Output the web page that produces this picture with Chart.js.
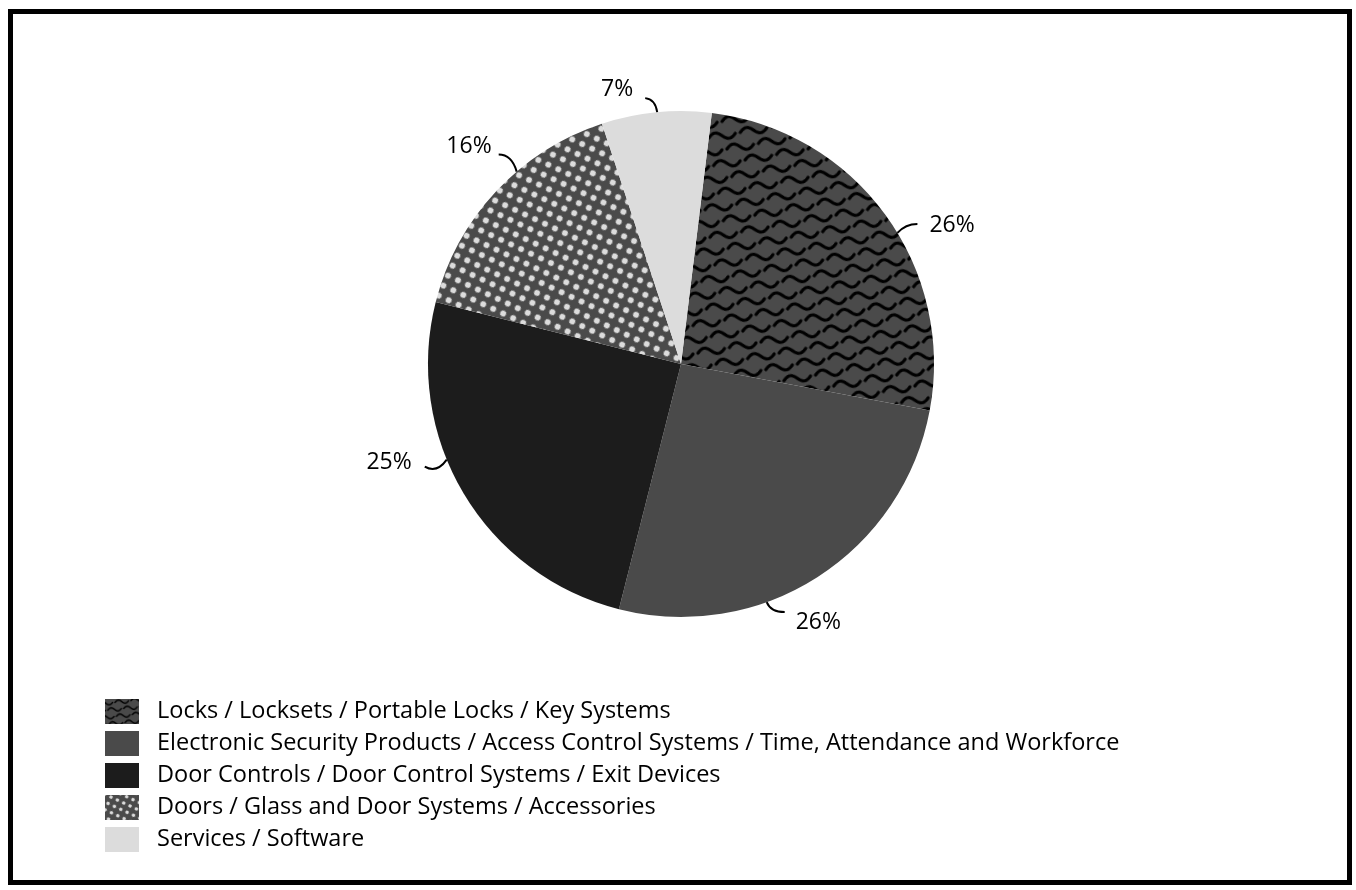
<!DOCTYPE html>
<html>
<head>
<meta charset="utf-8">
<script src="https://cdn.jsdelivr.net/npm/chart.js@4/dist/chart.umd.min.js"></script>
<style>
  html, body { margin: 0; padding: 0; background: #fff; }
  #wrap { width: 1356px; height: 890px; position: relative; }
</style>
</head>
<body>
<div id="wrap"><canvas id="pieChart" width="1356" height="890"></canvas></div>
<script>
const categories = [
  "Locks / Locksets / Portable Locks / Key Systems",
  "Electronic Security Products / Access Control Systems / Time, Attendance and Workforce",
  "Door Controls / Door Control Systems / Exit Devices",
  "Doors / Glass and Door Systems / Accessories",
  "Services / Software",
];
const shares = [26, 26, 25, 16, 7];
const shareLabels = ["26%", "26%", "25%", "16%", "7%"];

// leader lines: angle on rim (deg clockwise from top), control / end offsets, label offset from end
const leaderAngle = [58.8, 160.2, 247.8, 319.5, 354.6];
const leaderCtrl = [[8, -9], [4, 10], [-10, 14], [-5, -17], [-2, -13]];
const leaderEnd = [[20, -9], [18, 10], [-22, 7], [-18, -17], [-12, -14]];
const labelShift = [[12, 2], [11, 10], [-13, -4], [-7, -8], [-12, -9]];

const DARK = "#4a4a4a";
const BLACKISH = "#1c1c1c";
const LIGHT = "#dcdcdc";

// wavy pattern (black "~" strokes on dark grey)
const wavePattern = (s) => {
  const w = Math.round(32 * s), h = Math.round(28 * s);
  const c = document.createElement("canvas");
  c.width = w; c.height = h;
  const g = c.getContext("2d");
  g.fillStyle = DARK;
  g.fillRect(0, 0, w, h);
  g.strokeStyle = "#000";
  g.lineWidth = 3.1 * s;
  g.lineCap = "round";
  const tilde = (x0, y0) => {
    g.beginPath();
    for (let k = 0; k <= 24; k++) {
      const x = x0 + (k / 24) * 27 * s;
      const y = y0 - 3.8 * s * Math.sin((k / 24) * Math.PI * 2);
      k === 0 ? g.moveTo(x, y) : g.lineTo(x, y);
    }
    g.stroke();
  };
  for (let dx = -w; dx <= w; dx += w) {
    for (let dy = -h; dy <= h; dy += h) {
      tilde(2 * s + dx, 7 * s + dy);
      tilde(18 * s + dx, 21 * s + dy);
    }
  }
  return c;
};

// dotted pattern (light dots on dark grey)
const dotPattern = (s) => {
  const w = Math.round(11 * s);
  const c = document.createElement("canvas");
  c.width = w; c.height = w;
  const g = c.getContext("2d");
  g.fillStyle = DARK;
  g.fillRect(0, 0, w, w);
  g.fillStyle = LIGHT;
  g.beginPath();
  g.arc(w / 2, w / 2, 3 * s, 0, Math.PI * 2);
  g.fill();
  return c;
};

const tmp = document.createElement("canvas").getContext("2d");
const mkPattern = (src, angle) => {
  const p = tmp.createPattern(src, "repeat");
  if (angle) p.setTransform(new DOMMatrix().rotateSelf(angle));
  return p;
};

const sliceFills = [
  mkPattern(wavePattern(1), -10),
  DARK,
  BLACKISH,
  mkPattern(dotPattern(1), 25),
  LIGHT,
];
const legendFills = [
  mkPattern(wavePattern(0.5), -6),
  DARK,
  BLACKISH,
  mkPattern(dotPattern(0.6), 25),
  LIGHT,
];

const framePlugin = {
  id: "frame",
  beforeDraw(chart) {
    const ctx = chart.ctx;
    ctx.save();
    ctx.strokeStyle = "#000";
    ctx.lineWidth = 5;
    ctx.strokeRect(10.5, 11.5, 1339, 871);
    ctx.restore();
  },
};

const labelPlugin = {
  id: "sliceLabels",
  afterDraw(chart) {
    const ctx = chart.ctx;
    const arc = chart.getDatasetMeta(0).data[0];
    const cx = arc.x, cy = arc.y, r = arc.outerRadius;
    ctx.save();
    ctx.strokeStyle = "#000";
    ctx.lineWidth = 2;
    ctx.fillStyle = "#000";
    ctx.font = "23px 'Open Sans'";
    ctx.textBaseline = "middle";
    shareLabels.forEach((txt, i) => {
      const a = (leaderAngle[i] * Math.PI) / 180;
      const sx = cx + r * Math.sin(a);
      const sy = cy - r * Math.cos(a);
      const ex = sx + leaderEnd[i][0], ey = sy + leaderEnd[i][1];
      ctx.beginPath();
      ctx.moveTo(sx, sy);
      ctx.quadraticCurveTo(sx + leaderCtrl[i][0], sy + leaderCtrl[i][1], ex, ey);
      ctx.stroke();
      ctx.textAlign = labelShift[i][0] > 0 ? "left" : "right";
      ctx.fillText(txt, ex + labelShift[i][0], ey + labelShift[i][1]);
    });

    // legend, one entry per row
    ctx.font = "23.5px 'Open Sans'";
    ctx.textAlign = "left";
    categories.forEach((name, i) => {
      const y = 699 + i * 32;
      ctx.fillStyle = legendFills[i];
      ctx.fillRect(105, y, 34, 25);
      ctx.fillStyle = "#000";
      ctx.fillText(name, 157, y + 12);
    });
    ctx.restore();
  },
};

new Chart(document.getElementById("pieChart"), {
  type: "pie",
  data: {
    labels: categories,
    datasets: [
      {
        data: shares,
        backgroundColor: sliceFills,
        borderWidth: 0,
      },
    ],
  },
  options: {
    responsive: false,
    animation: false,
    rotation: 7,
    layout: { padding: { top: 111, bottom: 273, left: 300, right: 294 } },
    plugins: {
      legend: { display: false },
      tooltip: { enabled: false },
    },
  },
  plugins: [framePlugin, labelPlugin],
});
</script>
</body>
</html>
